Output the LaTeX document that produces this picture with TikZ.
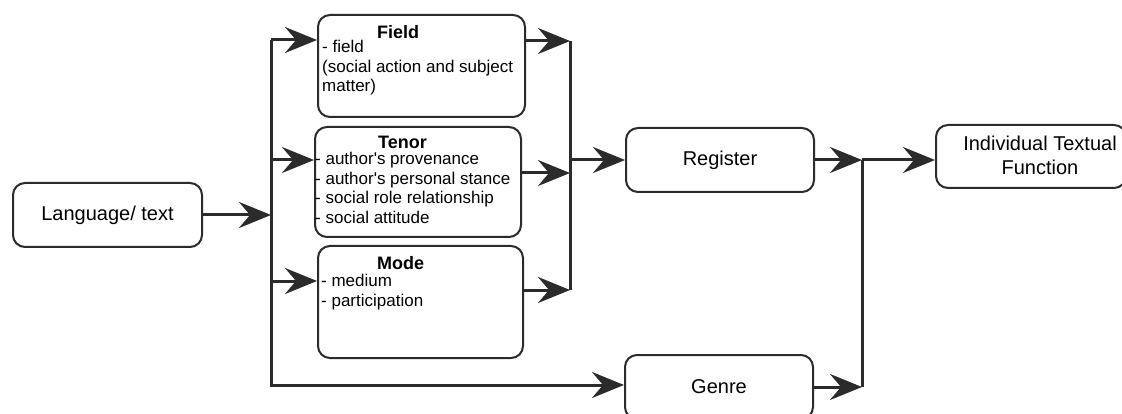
\documentclass[tikz,border=0pt]{standalone}
\usepackage{fontspec}
\setmainfont{Liberation Sans}
\usetikzlibrary{arrows.meta,positioning}
\definecolor{ink}{HTML}{2B2B2B}
\tikzstyle{line} = [line width=3pt,draw=ink]
\tikzstyle{arrow} = [line width=3pt,draw=ink,-{Stealth[length=32pt,width=26pt,inset=11pt]}]
\tikzstyle{box} = [draw=ink,line width=2pt,rounded corners=12pt,inner sep=0pt]
\tikzstyle{boxtext} = [font=\fontsize{20}{24}\selectfont,align=center]
\tikzstyle{headtext} = [font=\bfseries\fontsize{18}{20}\selectfont,anchor=west,inner sep=0pt]
\tikzstyle{listtext} = [font=\fontsize{17}{19.5}\selectfont,align=left,anchor=north west,inner sep=0pt]

\begin{document}
\begin{tikzpicture}[x=1pt,y=-1pt]
	\useasboundingbox (0,0) rectangle (1122,414);
	\def \q {\textquotesingle}
	% boxes
	\node[box,boxtext,minimum width=189pt,minimum height=64pt] (lang) at (107.5,215) {Language/ text};
	\node[box,minimum width=207pt,minimum height=102pt] (field) at (421.5,66) {};
	\node[box,minimum width=206pt,minimum height=110pt] (tenor) at (418,182) {};
	\node[box,minimum width=205pt,minimum height=112pt] (mode) at (420.5,302) {};
	\node[box,boxtext,minimum width=188pt,minimum height=64pt] (register) at (720,160) {Register};
	\node[box,boxtext,minimum width=188pt,minimum height=64pt] (genre) at (719,387) {Genre};
	\node[box,minimum width=190pt,minimum height=63pt] (itf) at (1031,156.5) {};
	\node[boxtext] (itftext) at (1040,155) {Individual Textual\\Function};

	\node[headtext] (fieldhead) at (377,32) {Field};
	\node[listtext] (fieldlist) at (322,40) {- field\\(social action and subject\\matter)};
	\node[headtext] (tenorhead) at (378,142) {Tenor};
	\node[listtext] (tenorlist) at (315,152) {- author\q s provenance\\- author\q s personal stance\\- social role relationship\\- social attitude};
	\node[headtext] (modehead) at (377,263) {Mode};
	\node[listtext] (modelist) at (321,274) {- medium\\- participation};

	% branch points
	\coordinate (split) at (271,215);
	\coordinate (fin) at (271,40);
	\coordinate (tin) at (271,160);
	\coordinate (min) at (271,281);
	\coordinate (gin) at (271,385);
	\coordinate (fout) at (570,41);
	\coordinate (tout) at (570,173);
	\coordinate (mout) at (570,290);
	\coordinate (rin) at (570,160);
	\coordinate (rout) at (862,160);
	\coordinate (gout) at (862,387);

	\draw [arrow] (lang.east) -- (split);
	\draw [arrow] (fin) -- (gin) -- (gin -| genre.west);
	\foreach \p/\n in {fin/field,tin/tenor,min/mode} {
		\draw [arrow] (\p) -- (\p -| \n.west);
	}
	\foreach \p/\n in {fout/field,tout/tenor,mout/mode} {
		\draw [arrow] (\p -| \n.east) -- (\p);
	}
	\draw [line] (fout) -- (mout);
	\draw [arrow] (rin) -- (rin -| register.west);
	\draw [arrow] (register.east) -- (rout);
	\draw [arrow] (genre.east) -- (gout);
	\draw [line] (rout) -- (gout);
	\draw [arrow] (rout) -- (rout -| itf.west);
\end{tikzpicture}
\end{document}
